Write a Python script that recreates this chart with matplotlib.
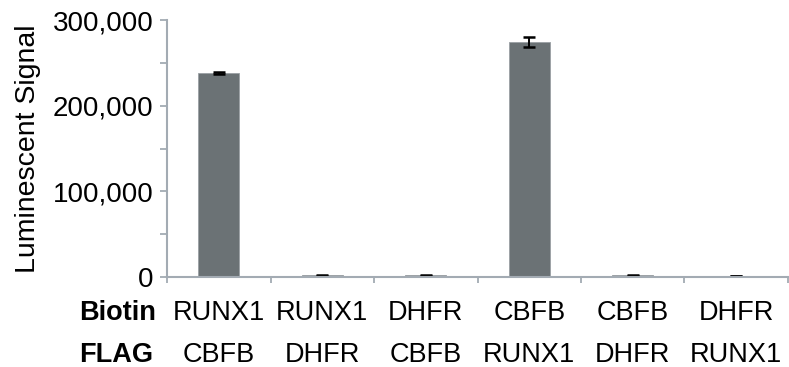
import numpy as np
import matplotlib.pyplot as plt
from matplotlib.ticker import FuncFormatter, MultipleLocator

plt.rcParams['font.family'] = ['Liberation Sans', 'DejaVu Sans']

biotin = ['RUNX1', 'RUNX1', 'DHFR', 'CBFB', 'CBFB', 'DHFR']
flag = ['CBFB', 'DHFR', 'CBFB', 'RUNX1', 'DHFR', 'RUNX1']
signal = [238000, 2200, 2200, 274000, 2200, 1500]
err = [1200, 600, 600, 6000, 600, 300]

bar_color = '#6b7275'
axis_color = '#a3abb3'

fig = plt.figure(figsize=(7.89, 3.67), dpi=100)
ax = fig.add_axes([0.2117, 0.245, 0.787, 0.7005])

x = np.arange(len(signal))
ax.bar(x, signal, width=0.4, color=bar_color, edgecolor='#9aa0a4', linewidth=0.6,
       yerr=err, capsize=4.5, error_kw=dict(ecolor='black', elinewidth=1.4, capthick=1.8))

ax.set_xlim(-0.5, len(signal) - 0.5)
ax.set_ylim(0, 300000)
ax.yaxis.set_major_locator(MultipleLocator(100000))
ax.yaxis.set_minor_locator(MultipleLocator(50000))
ax.yaxis.set_major_formatter(FuncFormatter(lambda v, p: '{:,.0f}'.format(v)))

ax.set_xticks(np.arange(len(signal) + 1) - 0.5)
ax.set_xticklabels([])

for s in ['top', 'right']:
    ax.spines[s].set_visible(False)
for s in ['left', 'bottom']:
    ax.spines[s].set_color(axis_color)
    ax.spines[s].set_linewidth(1.5)

ax.tick_params(axis='y', which='both', direction='out', color=axis_color, width=1.3,
               length=5, labelsize=20, pad=5)
ax.tick_params(axis='x', direction='out', color=axis_color, width=1.3, length=4)

ax.set_ylabel('Luminescent Signal', fontsize=20.5, labelpad=8)

trans = ax.get_xaxis_transform()
for i in range(len(signal)):
    ax.text(i, -0.138, biotin[i], transform=trans, ha='center', va='center', fontsize=19.5)
    ax.text(i, -0.303, flag[i], transform=trans, ha='center', va='center', fontsize=19.5)

ax.text(-0.018, -0.138, 'Biotin', transform=ax.transAxes, ha='right', va='center',
        fontsize=19.5, fontweight='bold')
ax.text(-0.022, -0.303, 'FLAG', transform=ax.transAxes, ha='right', va='center',
        fontsize=19.5, fontweight='bold')

fig.savefig('out.png', dpi=100)
